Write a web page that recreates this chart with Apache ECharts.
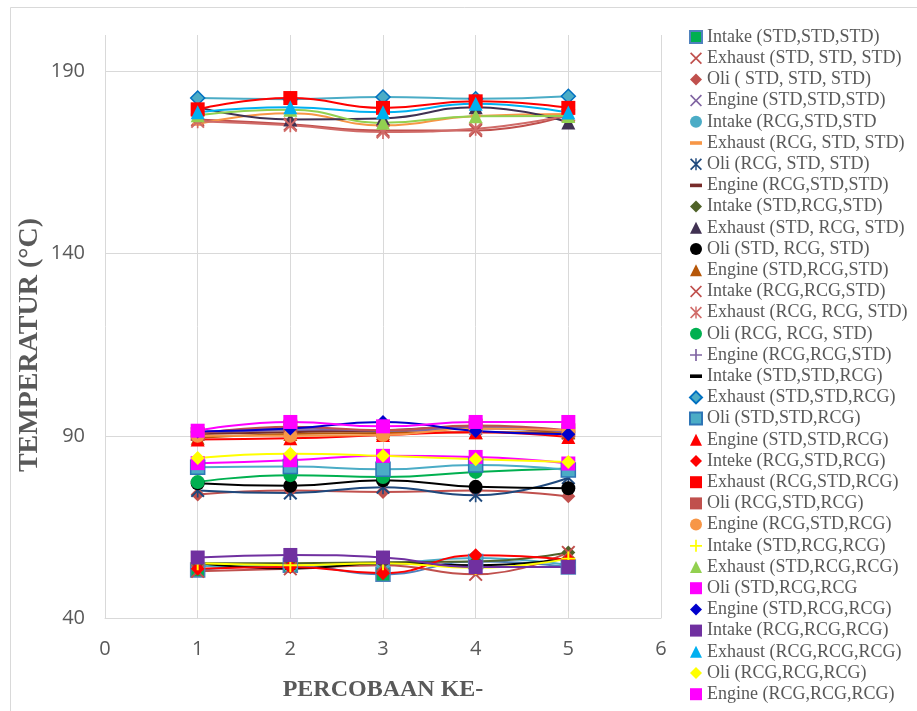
<!DOCTYPE html>
<html>
<head>
<meta charset="utf-8">
<script src="https://cdn.jsdelivr.net/npm/echarts@6/dist/echarts.min.js"></script>
<style>
html, body { margin: 0; padding: 0; background: #fff; }
#main { width: 917px; height: 711px; }
</style>
</head>
<body>
<div id="main"></div>
<script>
// x = percobaan ke- (trial number)
const trials = [1, 2, 3, 4, 5];

const legendNames = [
    'Intake (STD,STD,STD)', 'Exhaust (STD, STD, STD)', 'Oli ( STD, STD, STD)', 'Engine (STD,STD,STD)',
    'Intake (RCG,STD,STD', 'Exhaust (RCG, STD, STD)', 'Oli (RCG, STD, STD)', 'Engine (RCG,STD,STD)',
    'Intake (STD,RCG,STD)', 'Exhaust (STD, RCG, STD)', 'Oli (STD, RCG, STD)', 'Engine (STD,RCG,STD)',
    'Intake (RCG,RCG,STD)', 'Exhaust (RCG, RCG, STD)', 'Oli (RCG, RCG, STD)', 'Engine (RCG,RCG,STD)',
    'Intake (STD,STD,RCG)', 'Exhaust (STD,STD,RCG)', 'Oli (STD,STD,RCG)', 'Engine (STD,STD,RCG)',
    'Inteke (RCG,STD,RCG)', 'Exhaust (RCG,STD,RCG)', 'Oli (RCG,STD,RCG)', 'Engine (RCG,STD,RCG)',
    'Intake (STD,RCG,RCG)', 'Exhaust (STD,RCG,RCG)', 'Oli (STD,RCG,RCG', 'Engine (STD,RCG,RCG)',
    'Intake (RCG,RCG,RCG)', 'Exhaust (RCG,RCG,RCG)', 'Oli (RCG,RCG,RCG)', 'Engine (RCG,RCG,RCG)'
];

// temperatures (°C), one row per configuration in legend order:
// STD-STD-STD, RCG-STD-STD, STD-RCG-STD, RCG-RCG-STD, STD-STD-RCG, RCG-STD-RCG, STD-RCG-RCG, RCG-RCG-RCG
const intakeTemps = [
    [53.2, 54.5, 52.0, 55.5, 54.0],
    [54.3, 54.2, 54.8, 56.5, 54.5],
    [55.0, 55.0, 55.3, 55.5, 58.0],
    [52.8, 53.5, 54.5, 52.0, 58.0],
    [55.1, 53.6, 55.0, 54.5, 56.3],
    [53.5, 54.0, 52.3, 57.2, 56.0],
    [55.0, 54.5, 55.0, 53.8, 56.3],
    [56.6, 57.3, 56.6, 54.0, 54.0]
];
const exhaustTemps = [
    [176.8, 175.5, 173.8, 173.8, 178.0],
    [175.5, 178.5, 175.2, 177.8, 178.3],
    [180.2, 176.8, 177.1, 180.2, 176.0],
    [176.3, 175.2, 173.4, 174.3, 178.0],
    [182.7, 182.4, 183.0, 182.5, 183.2],
    [179.6, 182.7, 180.0, 181.8, 180.0],
    [178.0, 179.5, 175.9, 177.7, 177.8],
    [178.8, 180.2, 178.8, 181.1, 178.7]
];
const oliTemps = [
    [73.9, 75.0, 74.6, 75.0, 73.4],
    [75.0, 74.3, 75.9, 73.7, 78.5],
    [77.0, 76.3, 77.8, 76.0, 75.6],
    [77.3, 79.2, 78.7, 80.1, 81.0],
    [81.4, 81.6, 80.8, 82.0, 80.6],
    [90.5, 92.5, 91.5, 92.8, 91.5],
    [82.5, 83.3, 84.5, 84.2, 82.4],
    [83.9, 85.1, 84.5, 83.6, 82.8]
];
const engineTemps = [
    [90.5, 91.5, 91.2, 92.0, 90.8],
    [90.5, 91.0, 91.5, 92.5, 90.5],
    [89.5, 90.5, 90.8, 91.0, 91.0],
    [91.0, 92.0, 91.5, 92.5, 91.0],
    [89.0, 89.3, 90.2, 91.0, 89.7],
    [90.0, 90.0, 90.2, 92.0, 91.5],
    [91.2, 92.0, 93.8, 91.3, 90.4],
    [91.4, 93.8, 92.6, 93.8, 93.8]
];

// marker shapes like the excel ones
const X_MARK = 'path://M1,0 L5,4 L9,0 L10,1 L6,5 L10,9 L9,10 L5,6 L1,10 L0,9 L4,5 L0,1 Z';
const STAR_MARK = 'path://M1,0 L5,4 L9,0 L10,1 L6,5 L10,9 L9,10 L5,6 L1,10 L0,9 L4,5 L0,1 Z M4.4,0 L5.6,0 L5.6,10 L4.4,10 Z';
const PLUS_MARK = 'path://M4.3,0 L5.7,0 L5.7,4.3 L10,4.3 L10,5.7 L5.7,5.7 L5.7,10 L4.3,10 L4.3,5.7 L0,5.7 L0,4.3 L4.3,4.3 Z';
const DASH_MARK = 'path://M0,0 L10,0 L10,3 L0,3 Z';

const markerStyles = [
    { symbol: 'rect', color: '#00B050', border: '#4F81BD', line: '#4F81BD' },
    { symbol: X_MARK, color: '#C0504D' },
    { symbol: 'diamond', color: '#C0504D' },
    { symbol: X_MARK, color: '#8064A2' },
    { symbol: 'circle', color: '#4BACC6' },
    { symbol: DASH_MARK, color: '#F79646', dash: true },
    { symbol: STAR_MARK, color: '#1F497D' },
    { symbol: DASH_MARK, color: '#772C2A', dash: true },
    { symbol: 'diamond', color: '#4F6228' },
    { symbol: 'triangle', color: '#403152' },
    { symbol: 'circle', color: '#000000' },
    { symbol: 'triangle', color: '#B65708' },
    { symbol: X_MARK, color: '#C0504D' },
    { symbol: STAR_MARK, color: '#D06B68' },
    { symbol: 'circle', color: '#00B050' },
    { symbol: PLUS_MARK, color: '#8064A2' },
    { symbol: DASH_MARK, color: '#000000', dash: true },
    { symbol: 'diamond', color: '#4BACC6', border: '#0070C0', line: '#4BACC6' },
    { symbol: 'rect', color: '#4BACC6', border: '#2E75B6', line: '#4BACC6' },
    { symbol: 'triangle', color: '#FF0000' },
    { symbol: 'diamond', color: '#FF0000' },
    { symbol: 'rect', color: '#FF0000' },
    { symbol: 'rect', color: '#C0504D' },
    { symbol: 'circle', color: '#F79646' },
    { symbol: PLUS_MARK, color: '#FFFF00' },
    { symbol: 'triangle', color: '#92D050' },
    { symbol: 'rect', color: '#FF00FF' },
    { symbol: 'diamond', color: '#0000CC' },
    { symbol: 'rect', color: '#7030A0' },
    { symbol: 'triangle', color: '#00B0F0' },
    { symbol: 'diamond', color: '#FFFF00' },
    { symbol: 'rect', color: '#FF00FF' }
];

const tempsByPart = [intakeTemps, exhaustTemps, oliTemps, engineTemps];

const chart = echarts.init(document.getElementById('main'));

const seriesList = legendNames.map(function (name, i) {
    const values = tempsByPart[i % 4][Math.floor(i / 4)];
    const st = markerStyles[i];
    return {
        name: name,
        type: 'line',
        smooth: 0.5,
        data: trials.map(function (t, k) { return [t, values[k]]; }),
        symbol: st.symbol,
        symbolSize: st.dash ? [10, 3] : 14,
        lineStyle: { color: st.line || st.color, width: 2 },
        itemStyle: {
            color: st.color,
            borderColor: st.border || st.color,
            borderWidth: st.border ? 1.5 : 0
        }
    };
});

const titleFont = { fontFamily: 'Liberation Serif', fontWeight: 'bold', fill: '#595959' };

const option = {
    animation: false,
    backgroundColor: '#fff',
    graphic: [{
        type: 'rect',
        left: 8,
        top: 5,
        silent: true,
        shape: { width: 1000, height: 1000 },
        style: { fill: 'none', stroke: '#D9D9D9', lineWidth: 1 }
    }, {
        // axis titles
        type: 'text',
        x: 30,
        y: 345,
        rotation: Math.PI / 2,
        silent: true,
        style: Object.assign({ text: 'TEMPERATUR (°C)', fontSize: 28, align: 'center', verticalAlign: 'middle' }, titleFont)
    }, {
        type: 'text',
        x: 383,
        y: 690,
        silent: true,
        style: Object.assign({ text: 'PERCOBAAN KE-', fontSize: 24, align: 'center', verticalAlign: 'middle' }, titleFont)
    }],
    grid: { left: 105, right: 256, top: 35, bottom: 93, outerBoundsMode: 'none' },
    legend: {
        orient: 'vertical',
        left: 689,
        top: 28,
        padding: 0,
        itemWidth: 12,
        itemHeight: 12,
        itemGap: 3.2,
        textStyle: { fontFamily: 'Liberation Serif', fontSize: 18, color: '#595959' },
        data: legendNames.map(function (name, i) {
            return { name: name, icon: markerStyles[i].symbol };
        })
    },
    xAxis: {
        type: 'value',
        min: 0,
        max: 6,
        interval: 1,
        axisLine: { lineStyle: { color: '#D9D9D9' } },
        axisTick: { show: false },
        axisLabel: { margin: 21, fontFamily: 'Open Sans', fontSize: 20, color: '#595959' },
        splitLine: { show: true, lineStyle: { color: '#D9D9D9' } }
    },
    yAxis: {
        type: 'value',
        min: 40,
        max: 200,
        interval: 50,
        axisLine: { show: false },
        axisTick: { show: false },
        axisLabel: { margin: 20, fontFamily: 'Open Sans', fontSize: 20, color: '#595959', showMaxLabel: false },
        splitLine: { show: true, showMaxLine: false, lineStyle: { color: '#D9D9D9' } }
    },
    series: seriesList
};

chart.setOption(option);

window.addEventListener('resize', function () {
    chart.resize();
});
</script>
</body>
</html>
